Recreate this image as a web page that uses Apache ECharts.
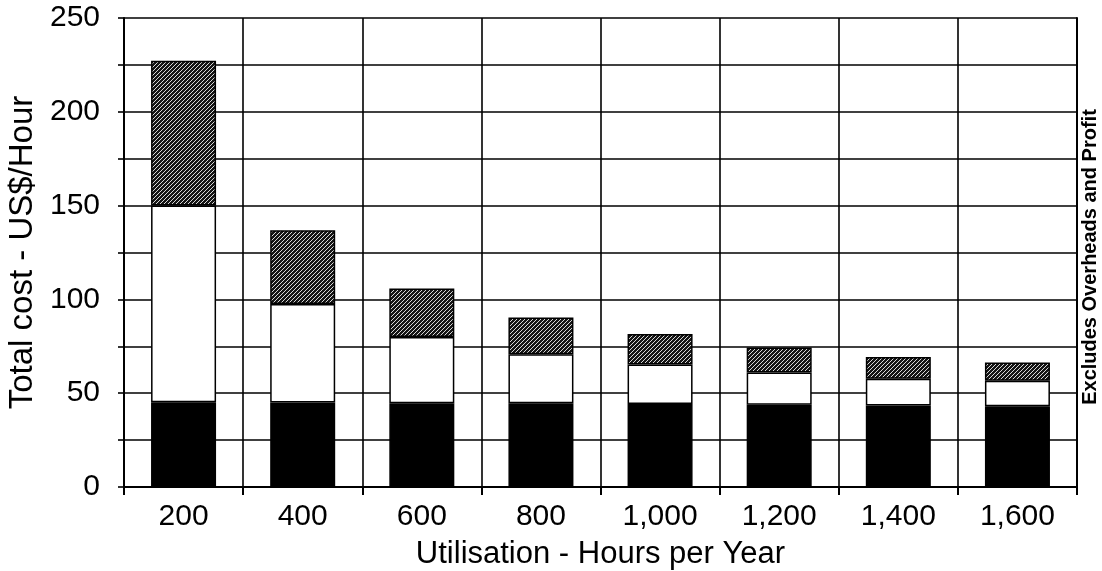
<!DOCTYPE html>
<html>
<head>
<meta charset="utf-8">
<script src="https://cdn.jsdelivr.net/npm/echarts@6/dist/echarts.min.js"></script>
<style>
  html, body { margin: 0; padding: 0; background: #fff; }
  #chart { width: 1102px; height: 571px; }
</style>
</head>
<body>
<div id="chart"></div>
<script>
// Data (US$/hour, stacked segments)
const categories = ['200', '400', '600', '800', '1,000', '1,200', '1,400', '1,600'];
const baseCost   = [45.2, 45.0, 44.7, 44.7, 44.3, 43.8, 43.4, 43.1];   // black
const midCost    = [104.8, 52.6, 35.3, 26.0, 21.0, 17.2, 14.3, 13.5];  // white
const topCost    = [77.2, 39.2, 25.8, 19.7, 16.3, 13.4, 11.6, 9.8];    // hatched
const yTicks     = [0, 50, 100, 150, 200, 250];

// hatch pattern
const pc = document.createElement('canvas');
pc.width = 4; pc.height = 4;
const ctx = pc.getContext('2d');
ctx.fillStyle = '#151515';
ctx.fillRect(0, 0, 4, 4);
ctx.fillStyle = '#d8d8d8';
for (let i = 0; i < 4; i++) ctx.fillRect(i, 3 - i, 1, 1);

const FONT = 'Liberation Sans, Arial, sans-serif';
const chart = echarts.init(document.getElementById('chart'), null, { renderer: 'canvas' });

const option = {
  animation: false,
  backgroundColor: '#fff',
  grid: { left: 124, right: 25, top: 18, bottom: 84, containLabel: false, outerBoundsMode: 'none' },
  xAxis: {
    type: 'category',
    data: categories,
    name: 'Utilisation - Hours per Year',
    nameLocation: 'middle',
    nameGap: 52,
    nameTextStyle: { fontFamily: FONT, fontSize: 31, color: '#000' },
    axisLine: { show: true, lineStyle: { color: '#000', width: 2 } },
    axisTick: { show: true, length: 8, lineStyle: { color: '#000', width: 2 } },
    axisLabel: { fontFamily: FONT, fontSize: 30, color: '#000', margin: 15, interval: 0 },
    splitLine: { show: true, lineStyle: { color: '#000', width: 1.6 } }
  },
  yAxis: [{
    type: 'value',
    min: 0, max: 250, interval: 25,
    name: 'Total cost - US$/Hour',
    nameLocation: 'middle',
    nameGap: 84,
    nameTextStyle: { fontFamily: FONT, fontSize: 33, color: '#000' },
    axisLine: { show: true, lineStyle: { color: '#000', width: 2 } },
    axisTick: { show: true, length: 6, lineStyle: { color: '#000', width: 1.6 } },
    axisLabel: {
      fontFamily: FONT, fontSize: 30, color: '#000', margin: 24,
      formatter: v => (yTicks.indexOf(v) >= 0 ? String(v) : '')
    },
    splitLine: { show: true, lineStyle: { color: '#000', width: 1.6 } }
  }, {
    type: 'value',
    position: 'right',
    min: 0, max: 250, interval: 25,
    axisLine: { show: true, lineStyle: { color: '#000', width: 2 } },
    axisTick: { show: false },
    axisLabel: { show: false },
    splitLine: { show: false }
  }],
  series: [
    {
      type: 'bar', stack: 'cost', data: baseCost, barWidth: 65,
      itemStyle: { color: '#000', borderColor: '#000', borderWidth: 1.5 }
    },
    {
      type: 'bar', stack: 'cost', data: midCost, barWidth: 65,
      itemStyle: { color: '#fff', borderColor: '#000', borderWidth: 1.5 }
    },
    {
      type: 'bar', stack: 'cost', data: topCost, barWidth: 65,
      itemStyle: { color: { image: pc, repeat: 'repeat' }, borderColor: '#000', borderWidth: 1.5 }
    }
  ],
  graphic: [{
    type: 'text',
    x: 1090, y: 257,
    rotation: Math.PI / 2,
    style: {
      text: 'Excludes Overheads and Profit',
      fontFamily: FONT, fontSize: 20, fontWeight: 'bold', fill: '#000',
      align: 'center', verticalAlign: 'middle'
    }
  }]
};
chart.setOption(option);
</script>
</body>
</html>
